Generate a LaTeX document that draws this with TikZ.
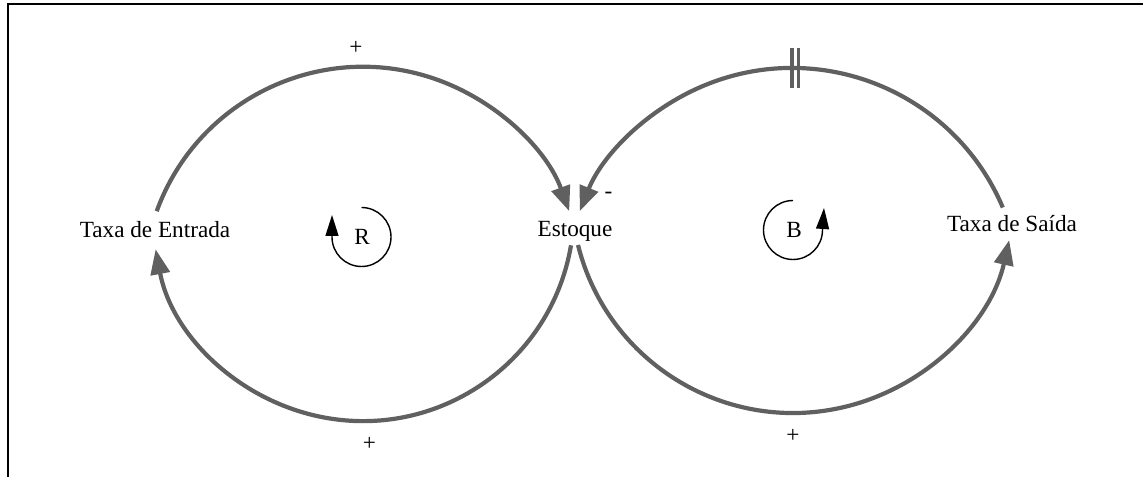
\documentclass[tikz,border=0pt]{standalone}
\usepackage{fontspec}
\setmainfont{Liberation Serif}
\usetikzlibrary{arrows.meta}
\definecolor{linkgray}{RGB}{96,96,96}
\tikzset{
  link/.style={draw=linkgray, line width=4.2pt, -{Triangle[length=25pt,width=19pt]}, fill=none},
  linkplain/.style={draw=linkgray, line width=4.2pt},
  loopline/.style={draw=black, line width=1.4pt, -{Triangle[length=21pt,width=13pt]}},
  lbl/.style={inner sep=0pt, anchor=base, font=\fontsize{23.2}{28}\selectfont},
  frameline/.style={draw=black, line width=2.4pt}
}
\begin{document}
\begin{tikzpicture}[x=1pt,y=1pt]
\useasboundingbox (0,0) rectangle (1143,477);
% frame (top and left only)
\coordinate (fTL) at (8.2,472.7);
\coordinate (fTR) at (1143,472.7);
\coordinate (fBL) at (8.2,0);
\draw[frameline] (fTR) -- (fTL) -- (fBL);

% variables
\node[lbl] (tde) at (155,239) {Taxa de Entrada};
\node[lbl] (est) at (575,240) {Estoque};
\node[lbl] (tds) at (1012,245) {Taxa de Saída};

% polarity labels
\node[lbl] (pTL) at (356,422) {+};
\node[lbl] (pBL) at (369.5,27) {+};
\node[lbl] (pBR) at (793,35) {+};
\node[lbl] (mTR) at (608.5,278) {-};

% loop identifiers
\node[lbl] (R) at (362,232) {R};
\node[lbl] (B) at (794,239) {B};

% arc end points
\coordinate (tdeTop) at (156.7,265.8);
\coordinate (estBotL) at (571,231.7);
\coordinate (tdsTop) at (1002.8,269.5);
\coordinate (estBotR) at (578,232);

% connectors
\draw[link] (tdeTop) arc[start angle=160, end angle=20, radius=219.5];
\draw[link] (estBotL) arc[start angle=-9.6, end angle=-169.3, radius=211];
\draw[link] (tdsTop) arc[start angle=23, end angle=158, radius=229];
\draw[link] (estBotR) arc[start angle=-166, end angle=-12.7, radius=221.6];

% delay mark
\coordinate (delay) at (795,409);
\draw[linkplain, line width=3.8pt] ([xshift=-3pt,yshift=-20pt]delay) -- ([xshift=-3pt,yshift=20pt]delay);
\draw[linkplain, line width=3.8pt] ([xshift=3.5pt,yshift=-20pt]delay) -- ([xshift=3.5pt,yshift=20pt]delay);

% loop symbols
\coordinate (rTop) at (361.5,269.5);
\draw[loopline] (rTop) arc[start angle=90, end angle=-180, radius=29.5] -- ++(0,22);
\coordinate (bTop) at (793,276.5);
\draw[loopline] (bTop) arc[start angle=90, end angle=360, radius=29.5] -- ++(1.5,22);
\end{tikzpicture}
\end{document}
